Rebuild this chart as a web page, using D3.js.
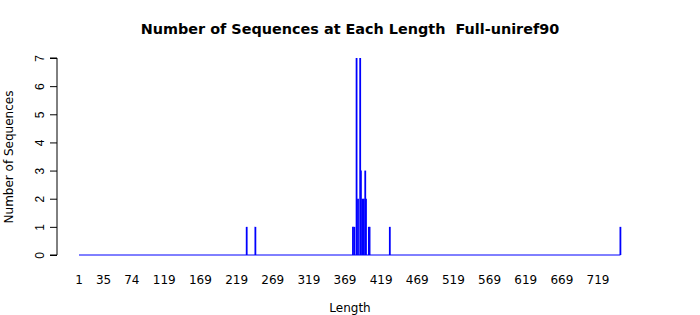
<!DOCTYPE html>
<html>
<head>
<meta charset="utf-8">
<script src="https://cdn.jsdelivr.net/npm/d3@7"></script>
<style>
  body { margin: 0; background: #fff; }
  svg { font-family: "DejaVu Sans", sans-serif; }
</style>
</head>
<body>
<svg class="chart" width="700" height="315"></svg>
<script>
  // lengths that have sequences, and how many
  var lengths = [233, 245, 380, 382, 385, 387, 390, 391, 393, 395, 397, 398, 402, 403, 431, 750];
  var counts  = [1,   1,   1,   1,   7,   2,   7,   3,   2,   2,   3,   2,   1,   1,   1,   1];
  var xTicks  = [1, 35, 74, 119, 169, 219, 269, 319, 369, 419, 469, 519, 569, 619, 669, 719];
  var yTicks  = [0, 1, 2, 3, 4, 5, 6, 7];

  var svg = d3.select(".chart");

  var x = d3.scaleLinear()
      .domain([1, 719])
      .range([79, 598]);

  var y = d3.scaleLinear()
      .domain([0, 7])
      .range([255, 58]);

  // baseline (zero-height bars)
  svg.append("line")
      .attr("x1", x(1)).attr("x2", x(d3.max(lengths)))
      .attr("y1", y(0)).attr("y2", y(0))
      .attr("stroke", "#0000ff")
      .attr("stroke-width", 1);

  var data = lengths.map(function(d, i) { return {len: d, n: counts[i]}; });

  svg.selectAll("line.bar")
      .data(data)
    .enter().append("line")
      .attr("class", "bar")
      .attr("x1", function(d) { return x(d.len); })
      .attr("x2", function(d) { return x(d.len); })
      .attr("y1", y(0))
      .attr("y2", function(d) { return y(d.n); })
      .attr("stroke", "#0000ff")
      .attr("stroke-width", 1.8);

  // y axis
  var yAxis = d3.axisLeft(y)
      .tickValues(yTicks)
      .tickSize(7)
      .tickPadding(0)
      .tickFormat(d3.format("d"));

  var gy = svg.append("g")
      .attr("transform", "translate(57,0)")
      .call(yAxis);
  gy.select(".domain").attr("d", "M-7," + y(7) + "H0V" + y(0) + "H-7").attr("stroke", "#000");
  gy.selectAll(".tick line").attr("stroke", "#000");
  gy.selectAll(".tick text")
      .attr("x", 0).attr("dy", 0)
      .attr("text-anchor", "middle")
      .attr("font-size", 12)
      .attr("fill", "#000")
      .attr("transform", "translate(-17,0) rotate(-90)")
      .attr("dominant-baseline", "central");

  // x labels (no axis line)
  svg.selectAll("text.xl")
      .data(xTicks)
    .enter().append("text")
      .attr("class", "xl")
      .attr("x", function(d) { return x(d); })
      .attr("y", 284)
      .attr("text-anchor", "middle")
      .attr("font-size", 12)
      .text(function(d) { return d; });

  svg.append("text")
      .attr("x", 350).attr("y", 34)
      .attr("text-anchor", "middle")
      .attr("font-size", 14.4)
      .attr("font-weight", "bold")
      .style("white-space", "pre")
      .text("Number of Sequences at Each Length  Full-uniref90");

  svg.append("text")
      .attr("x", 350).attr("y", 312)
      .attr("text-anchor", "middle")
      .attr("font-size", 12)
      .text("Length");

  svg.append("text")
      .attr("transform", "translate(13,157) rotate(-90)")
      .attr("text-anchor", "middle")
      .attr("font-size", 12)
      .text("Number of Sequences");
</script>
</body>
</html>
